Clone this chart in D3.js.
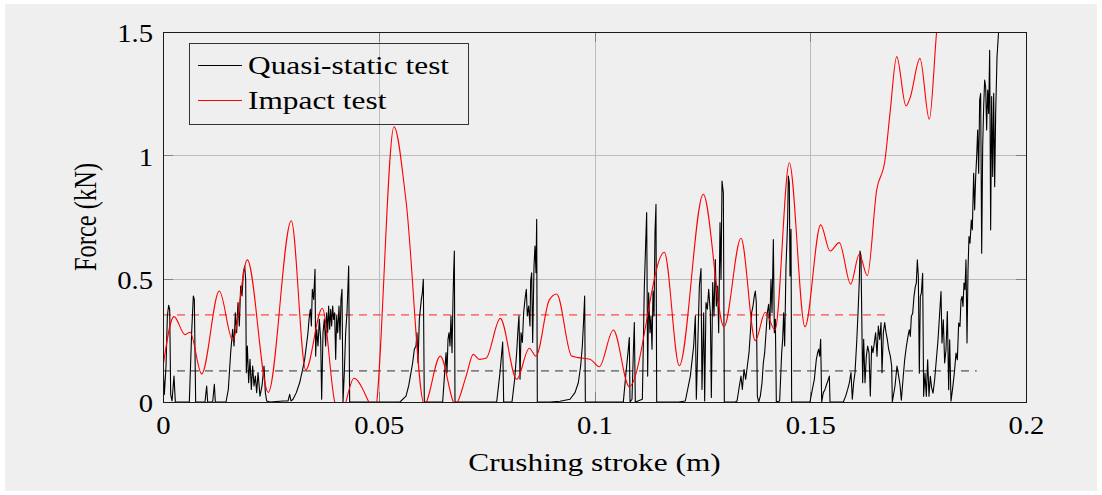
<!DOCTYPE html>
<html>
<head>
<meta charset="utf-8">
<script src="https://cdn.jsdelivr.net/npm/d3@7"></script>
<style>
  html, body { margin: 0; padding: 0; background: #ffffff; }
  svg text { font-family: "Liberation Serif", "Times New Roman", serif; fill: #000; }
</style>
</head>
<body>
<div id="chart"></div>
<script>
// axis ticks
const strokeTicks = [0, 0.05, 0.1, 0.15, 0.2];
const forceTicks = [0, 0.5, 1, 1.5];
const strokeGrid = [0.05, 0.1, 0.15];
const forceGrid = [0.5, 1];

// series names
const seriesNames = ["Quasi-static test", "Impact test"];

// quasi-static test: [stroke (m), force (kN)]
const quasiStatic = [
  [0, 0.159], [0.00031, 0.031], [0.0007, 0.146], [0.00101, 0.349], [0.00131, 0.392], [0.00155, 0.376], [0.00178, 0.031],
  [0.00209, 0.004], [0.00255, 0.105], [0.00286, 0], [0.0061, 0], [0.00664, 0.281], [0.00703, 0.43], [0.00726, 0.416],
  [0.00757, 0], [0.00973, 0], [0.01012, 0.065], [0.01035, 0], [0.01151, 0], [0.0119, 0.072], [0.01213, 0], [0.0146, 0],
  [0.01514, 0.051], [0.01568, 0.2], [0.01615, 0.295], [0.01646, 0.227], [0.01676, 0.362], [0.01707, 0.281], [0.01738, 0.403],
  [0.01769, 0.308], [0.018, 0.47], [0.01831, 0.43], [0.01862, 0.524], [0.01893, 0.551], [0.01916, 0.497], [0.01931, 0.119],
  [0.01955, 0.227], [0.01985, 0.078], [0.02016, 0.173], [0.02047, 0.051], [0.02078, 0.146], [0.02109, 0.065], [0.0214, 0.105],
  [0.02171, 0.038], [0.02202, 0.119], [0.02248, 0.024], [0.02294, 0.065], [0.02341, 0.146], [0.02372, 0.038], [0.02403, 0.004],
  [0.0248, 0],
  [0.02781, 0.004], [0.02897, 0.004], [0.02936, 0.031], [0.02966, 0.004], [0.03013, 0.011], [0.0309, 0.038], [0.03167, 0.078],
  [0.03229, 0.126], [0.03283, 0.173], [0.03322, 0.227], [0.0336, 0.281], [0.03384, 0.335], [0.03415, 0.376], [0.03438, 0.308],
  [0.03461, 0.457], [0.03492, 0.416], [0.03523, 0.538], [0.03538, 0.186], [0.03561, 0.295], [0.03592, 0.227], [0.03623, 0.335],
  [0.03654, 0.254], [0.03677, 0.011], [0.03708, 0.281], [0.03739, 0.335], [0.0377, 0.227], [0.03793, 0.362], [0.03816, 0.281],
  [0.03839, 0.389], [0.03863, 0.295], [0.03886, 0.376], [0.03909, 0.308], [0.03932, 0.389], [0.03955, 0.335], [0.03978, 0.362],
  [0.04002, 0.173], [0.04025, 0.349], [0.04048, 0.281], [0.04079, 0.389], [0.04102, 0.254], [0.04125, 0.416], [0.04148, 0.457],
  [0.04172, 0], [0.04202, 0.119], [0.04233, 0.281], [0.04264, 0.362], [0.04287, 0.47], [0.04303, 0.551], [0.04326, 0],
  [0.05492, 0], [0.05632, 0.024], [0.05693, 0.065], [0.05747, 0.119], [0.05786, 0.159], [0.05825, 0.214], [0.05863, 0.227],
  [0.05886, 0.281], [0.0591, 0.159], [0.05941, 0.335], [0.05964, 0.376], [0.05987, 0.416], [0.0601, 0.443], [0.06033, 0.497],
  [0.06056, 0], [0.06481, 0], [0.06528, 0.119], [0.06559, 0.2], [0.06582, 0.119], [0.06605, 0.254], [0.06628, 0.281],
  [0.06651, 0.227], [0.06674, 0.349], [0.06698, 0.2], [0.06721, 0.416], [0.06736, 0.524], [0.06752, 0.612], [0.06767, 0],
  [0.07733, 0], [0.0781, 0.119], [0.07872, 0.243], [0.07895, 0], [0.08088, 0], [0.0815, 0.092], [0.08196, 0.2], [0.08227, 0.295],
  [0.0825, 0.349], [0.08274, 0.092], [0.08297, 0.281], [0.08328, 0.241], [0.08358, 0.362], [0.08389, 0.416], [0.0842, 0.457],
  [0.08443, 0.349], [0.08474, 0.389], [0.08505, 0.308], [0.08521, 0.491], [0.08544, 0.524], [0.08567, 0.241], [0.08598, 0.551],
  [0.08621, 0.632], [0.08644, 0.524], [0.0866, 0.741], [0.08675, 0], [0.08969, 0], [0.092, 0.003], [0.09432, 0.011],
  [0.09548, 0.038], [0.09625, 0.078], [0.09679, 0.146], [0.09718, 0.227], [0.09749, 0.335], [0.09772, 0.43], [0.09788, 0],
  [0.10668, 0], [0.1073, 0.119], [0.10776, 0.2], [0.10807, 0.261], [0.10823, 0], [0.10869, 0.011], [0.109, 0.2], [0.10923, 0.322],
  [0.10946, 0], [0.11109, 0.011], [0.11155, 0.47], [0.11209, 0.768], [0.11232, 0.105], [0.11255, 0.443], [0.11286, 0.281],
  [0.11309, 0.349], [0.11333, 0.214], [0.11356, 0.45], [0.11379, 0.349], [0.11402, 0.686], [0.11425, 0.801], [0.11441, 0],
  [0.1195, 0], [0.12105, 0.004], [0.12221, 0.105], [0.12298, 0.227], [0.12337, 0.349], [0.1236, 0.011], [0.1243, 0.47],
  [0.12468, 0.541], [0.12491, 0.051], [0.1253, 0.362], [0.12553, 0.004], [0.12584, 0.403], [0.12615, 0.376], [0.12646, 0.457],
  [0.12685, 0.362], [0.12708, 0.018], [0.12739, 0.484], [0.12769, 0.349], [0.128, 0.578], [0.12824, 0.389], [0.12854, 0.47],
  [0.12878, 0.281], [0.12909, 0.727], [0.12932, 0.497], [0.12955, 0.896], [0.12986, 0.849], [0.13009, 0], [0.13264, 0],
  [0.13303, 0.004], [0.13357, 0.065], [0.13395, 0.105], [0.13426, 0.051], [0.13465, 0.132], [0.13503, 0.092], [0.13542, 0.146],
  [0.13581, 0.2], [0.13612, 0.281], [0.13642, 0.362], [0.13673, 0.389], [0.13704, 0.43], [0.13727, 0.45], [0.1375, 0.403],
  [0.13774, 0.024], [0.13805, 0], [0.13843, 0.024], [0.13882, 0.078], [0.13913, 0.159], [0.13944, 0.2], [0.13975, 0.281],
  [0.14005, 0.362], [0.14036, 0.396], [0.1406, 0.295], [0.1409, 0.497], [0.14114, 0.362], [0.14145, 0.659], [0.14168, 0.281],
  [0.14191, 0.335], [0.14214, 0], [0.14291, 0.004], [0.14338, 0.2], [0.14361, 0.254], [0.14384, 0.362], [0.14407, 0.227],
  [0.14438, 0.551], [0.14461, 0.659], [0.14477, 0.741], [0.14492, 0.916], [0.14515, 0.889], [0.14531, 0.511], [0.14554, 0.7],
  [0.14569, 0], [0.14994, 0], [0.15048, 0.051], [0.15095, 0.092], [0.15141, 0.173], [0.15172, 0.2], [0.15195, 0.214],
  [0.15218, 0.186], [0.15241, 0.254], [0.15265, 0], [0.15303, 0.038], [0.15342, 0.051], [0.1538, 0.072], [0.15419, 0.092],
  [0.15442, 0.105], [0.15458, 0], [0.15767, 0], [0.15821, 0.024], [0.15867, 0.051], [0.15906, 0.078], [0.15944, 0.119],
  [0.15975, 0.011], [0.16006, 0.078], [0.16037, 0.119], [0.16076, 0.241], [0.16114, 0.389], [0.16138, 0.497], [0.16153, 0.612],
  [0.16176, 0.592], [0.16199, 0.281], [0.16215, 0.078], [0.16238, 0.254], [0.16269, 0.078], [0.163, 0.186], [0.16331, 0.227],
  [0.16362, 0.2], [0.16392, 0.024], [0.16423, 0.227], [0.16454, 0.2], [0.16485, 0.241], [0.16516, 0.281], [0.16547, 0.186],
  [0.16578, 0.308], [0.16609, 0.254], [0.1664, 0.322], [0.16663, 0.119], [0.16694, 0.281], [0.16725, 0.322], [0.16756, 0.281],
  [0.16786, 0.254], [0.16817, 0.214], [0.16856, 0.186], [0.16887, 0.146], [0.16902, 0], [0.16964, 0.065], [0.1701, 0.146],
  [0.17049, 0.105], [0.1708, 0.07], [0.17111, 0.007], [0.17149, 0.09], [0.17188, 0.171], [0.17227, 0.225], [0.17265, 0.266],
  [0.17296, 0.293], [0.17319, 0.266], [0.17343, 0.347], [0.17374, 0.36], [0.17404, 0.428], [0.17435, 0.468], [0.17458, 0.482],
  [0.17482, 0.576], [0.17505, 0.509], [0.17528, 0.117], [0.17551, 0.428], [0.17574, 0.441], [0.17605, 0.522], [0.17628, 0.023],
  [0.17659, 0.117], [0.1769, 0.023], [0.17721, 0.171], [0.17752, 0.023], [0.17783, 0.104], [0.17814, 0.057], [0.17845, 0.036],
  [0.17883, 0.09], [0.17922, 0.171], [0.17961, 0.252], [0.17999, 0.36], [0.1803, 0.448], [0.18053, 0.239], [0.18084, 0.333],
  [0.18115, 0.158], [0.18146, 0.212], [0.18177, 0.367], [0.18208, 0.05], [0.18231, 0.252], [0.18262, 0.003], [0.18301, 0.057],
  [0.18339, 0.117], [0.18378, 0.198], [0.18409, 0.171], [0.1844, 0.32], [0.1847, 0.306], [0.18494, 0.414], [0.18517, 0.428],
  [0.1854, 0.387], [0.18563, 0.482], [0.18586, 0.455], [0.18609, 0.576], [0.18633, 0.239], [0.18656, 0.536], [0.18679, 0.671],
  [0.18702, 0.644], [0.18733, 0.738], [0.18756, 0.698], [0.18787, 0.927], [0.1881, 0.779], [0.18834, 0.914], [0.18857, 0.995],
  [0.1888, 1.103], [0.18903, 0.927], [0.18926, 1.224], [0.18949, 1.251], [0.18973, 0.603], [0.18996, 1.035], [0.19019, 1.197],
  [0.19042, 1.305], [0.19065, 1.278], [0.19088, 1.103], [0.19112, 1.265], [0.19135, 1.17], [0.19158, 1.426], [0.19181, 0.698],
  [0.19204, 1.238], [0.19228, 0.914], [0.19251, 1.251], [0.19274, 0.873], [0.19297, 1.17], [0.19328, 1.399], [0.19367, 1.507],
  [0.19428, 1.71]
];

// impact test: [stroke (m), force (kN)]  (turning points of the smooth trace)
const impact = [
  [0, 0.143], [0.00255, 0.346], [0.0051, 0.273], [0.00626, 0.283], [0.00897, 0.114], [0.01305, 0.45], [0.01615, 0.251],
  [0.01954, 0.576], [0.0244, 0.039], [0.02973, 0.735], [0.03307, 0.13], [0.03692, 0.38], [0.0398, 0], [0.0412, -0.05],
  [0.04426, 0.096], [0.0477, 0], [0.049, -0.05], [0.05353, 1.116], [0.0563, 0.819], [0.06056, -0.01], [0.06426, 0.186],
  [0.06774, -0.01], [0.07022, 0.103], [0.07191, 0.193], [0.0733, 0.173], [0.07485, 0.177], [0.07817, 0.339], [0.08197, 0.092],
  [0.08489, 0.218], [0.08644, 0.186], [0.08953, 0.414], [0.09124, 0.438], [0.09471, 0.186], [0.09625, 0.18], [0.09896, 0.173],
  [0.10111, 0.143], [0.10436, 0.292], [0.10806, 0.062], [0.11618, 0.607], [0.11965, 0.147], [0.12521, 0.842], [0.13001, 0.305],
  [0.13395, 0.664], [0.13727, 0.249], [0.13958, 0.364], [0.14183, 0.292], [0.14515, 0.97], [0.14878, 0.305], [0.15242, 0.718],
  [0.15458, 0.612], [0.15673, 0.646], [0.15937, 0.478], [0.16137, 0.599], [0.16322, 0.512], [0.1654, 0.86], [0.16732, 0.981],
  [0.16848, 1.17], [0.17004, 1.4], [0.17219, 1.2], [0.17312, 1.232], [0.17543, 1.393], [0.17759, 1.146], [0.1793, 1.503],
  [0.18053, 1.71]
];

// mean force levels: [force (kN), end of stroke (m)]
const quasiStaticMean = [0.126, 0.1886];
const impactMean = [0.353, 0.1681];

const W = 1102, H = 495;
const plotL = 163, plotR = 1026, plotT = 32, plotB = 402;
const stretch = 1.28;     // the original figure is stretched horizontally
const digitStretch = 1.17;
const fontSize = 24.5;

const svg = d3.select("#chart").append("svg")
  .attr("width", W)
  .attr("height", H);

svg.append("rect")
  .attr("x", 5).attr("y", 4)
  .attr("width", W - 10).attr("height", H - 8)
  .attr("fill", "#efefef");

const x = d3.scaleLinear().domain([0, 0.2]).range([plotL, plotR]);
const y = d3.scaleLinear().domain([0, 1.5]).range([plotB, plotT]);

//grid
svg.append("g")
  .attr("transform", "translate(0," + plotB + ")")
  .call(d3.axisBottom(x).tickValues(strokeGrid).tickSize(-(plotB - plotT)).tickFormat(""))
  .call(g => g.select(".domain").remove())
  .call(g => g.selectAll("line").attr("stroke", "#bcbcbc").attr("shape-rendering", "crispEdges"));

svg.append("g")
  .attr("transform", "translate(" + plotL + ",0)")
  .call(d3.axisLeft(y).tickValues(forceGrid).tickSize(-(plotR - plotL)).tickFormat(""))
  .call(g => g.select(".domain").remove())
  .call(g => g.selectAll("line").attr("stroke", "#bcbcbc").attr("shape-rendering", "crispEdges"));

// inner tick marks on all four sides
const tickLen = 10;
const tickAxes = [
  [d3.axisBottom(x).tickValues(strokeTicks), "translate(0," + plotB + ")"],
  [d3.axisTop(x).tickValues(strokeTicks), "translate(0," + plotT + ")"],
  [d3.axisLeft(y).tickValues(forceTicks), "translate(" + plotL + ",0)"],
  [d3.axisRight(y).tickValues(forceTicks), "translate(" + plotR + ",0)"]
];
tickAxes.forEach(([ax, tr]) => {
  svg.append("g")
    .attr("transform", tr)
    .call(ax.tickSize(-tickLen).tickFormat(""))
    .call(g => g.select(".domain").remove())
    .call(g => g.selectAll("line").attr("stroke", "#808080").attr("shape-rendering", "crispEdges"));
});

// tick labels
svg.append("g")
  .attr("transform", "translate(0," + plotB + ")")
  .call(d3.axisBottom(x).tickValues(strokeTicks).tickSize(0).tickFormat(d => String(d)))
  .call(g => g.select(".domain").remove())
  .call(g => g.selectAll("text")
    .attr("font-size", fontSize)
    .attr("y", 32).attr("dy", null)
    .attr("transform", "scale(" + digitStretch + ",1)"));

svg.append("g")
  .attr("transform", "translate(" + plotL + ",0)")
  .call(d3.axisLeft(y).tickValues(forceTicks).tickSize(0).tickFormat(d => String(d)))
  .call(g => g.select(".domain").remove())
  .call(g => g.selectAll("text")
    .attr("font-size", fontSize)
    .attr("x", 0).attr("dy", "0.4em")
    .attr("transform", "translate(-10,0) scale(" + digitStretch + ",1)"));

svg.selectAll(".tick text").attr("font-family", null);

// axis labels
svg.append("text")
  .attr("transform", "translate(" + (plotL + plotR) / 2 + ",471) scale(" + stretch + ",1)")
  .attr("text-anchor", "middle")
  .attr("font-size", fontSize)
  .text("Crushing stroke (m)");

svg.append("text")
  .attr("transform", "translate(96," + (plotT + plotB) / 2 + ") scale(" + stretch + ",1) rotate(-90)")
  .attr("text-anchor", "middle")
  .attr("font-size", fontSize)
  .text("Force (kN)");

// clip for the data
svg.append("clipPath").attr("id", "plot-clip")
  .append("rect")
  .attr("x", plotL).attr("y", plotT)
  .attr("width", plotR - plotL).attr("height", plotB - plotT);

const plot = svg.append("g").attr("clip-path", "url(#plot-clip)");

// mean lines
const meanLine = (m, color) => plot.append("line")
  .attr("x1", x(0)).attr("x2", x(m[1]))
  .attr("y1", y(m[0])).attr("y2", y(m[0]))
  .attr("stroke", color)
  .attr("stroke-width", 1)
  .attr("stroke-dasharray", "8,6");

meanLine(quasiStaticMean, "#333333");
meanLine(impactMean, "#ff2020");

const lineQS = d3.line().x(d => x(d[0])).y(d => y(d[1]));
const lineImp = d3.line().x(d => x(d[0])).y(d => y(d[1])).curve(d3.curveMonotoneX);

plot.append("path")
  .datum(quasiStatic)
  .attr("d", lineQS)
  .attr("fill", "none")
  .attr("stroke", "#000")
  .attr("stroke-width", 1.1)
  .attr("stroke-linejoin", "round");

plot.append("path")
  .datum(impact)
  .attr("d", lineImp)
  .attr("fill", "none")
  .attr("stroke", "#ff0000")
  .attr("stroke-width", 1.1);

// frame
svg.append("rect")
  .attr("x", plotL).attr("y", plotT)
  .attr("width", plotR - plotL).attr("height", plotB - plotT)
  .attr("fill", "none")
  .attr("stroke", "#1a1a1a")
  .attr("stroke-width", 1)
  .attr("shape-rendering", "crispEdges");

// legend
const legend = svg.append("g");
legend.append("rect")
  .attr("x", 189).attr("y", 43)
  .attr("width", 279).attr("height", 81)
  .attr("fill", "none")
  .attr("stroke", "#333")
  .attr("stroke-width", 1)
  .attr("shape-rendering", "crispEdges");

const legendColors = ["#000", "#ff0000"];
seriesNames.forEach((name, i) => {
  const ly = 65.5 + i * 35;
  legend.append("line")
    .attr("x1", 198).attr("x2", 242)
    .attr("y1", ly).attr("y2", ly)
    .attr("stroke", legendColors[i])
    .attr("stroke-width", 1.1);
  legend.append("text")
    .attr("transform", "translate(248," + (ly + 8.5) + ") scale(" + stretch + ",1)")
    .attr("font-size", fontSize)
    .text(name);
});
</script>
</body>
</html>
